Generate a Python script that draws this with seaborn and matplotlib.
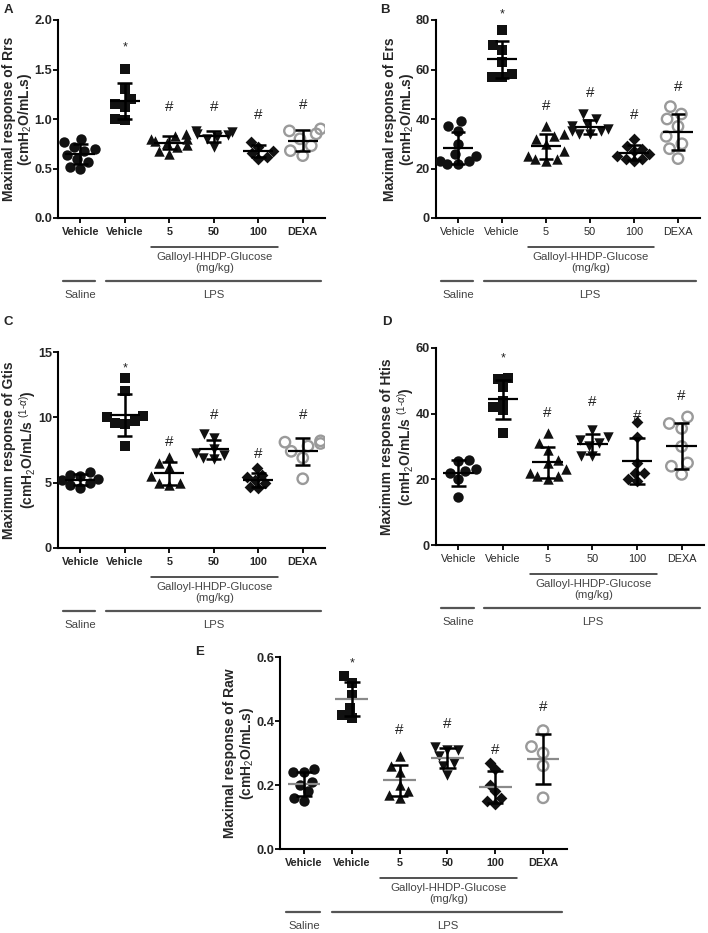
import numpy as np
import pandas as pd
import matplotlib
matplotlib.use("Agg")
import matplotlib.pyplot as plt
import matplotlib.transforms as mtransforms
import seaborn as sns

# groups (x categories) and their tick labels
groups = ["Saline Vehicle", "LPS Vehicle", "5", "50", "100", "DEXA"]
tick_labels = ["Vehicle", "Vehicle", "5", "50", "100", "DEXA"]

# values, one list per group
rrs = [[0.80, 0.77, 0.72, 0.68, 0.64, 0.60, 0.57, 0.52, 0.50, 0.70],
       [1.51, 1.30, 1.20, 1.15, 1.12, 1.00, 0.99],
       [0.85, 0.83, 0.80, 0.78, 0.76, 0.74, 0.72, 0.68, 0.65, 0.80],
       [0.88, 0.87, 0.85, 0.84, 0.82, 0.80, 0.72],
       [0.77, 0.72, 0.68, 0.66, 0.62, 0.60],
       [0.90, 0.88, 0.85, 0.80, 0.73, 0.68, 0.63]]
ers = [[39, 37, 35, 30, 26, 25, 23, 22, 22, 23],
       [76, 70, 68, 63, 58, 57, 57],
       [37, 34, 32, 30, 27, 25, 24, 24, 23, 33],
       [42, 40, 38, 37, 36, 35, 35, 34, 34],
       [32, 29, 28, 27, 26, 25, 24, 24, 23],
       [45, 42, 40, 37, 33, 30, 28, 24]]
gtis = [[5.8, 5.6, 5.5, 5.3, 5.2, 5.0, 4.8, 4.6],
        [13.0, 12.0, 10.1, 10.0, 9.7, 9.6, 9.5, 7.8],
        [7.0, 6.5, 6.2, 5.5, 5.0, 5.0, 4.8],
        [8.7, 8.4, 7.6, 7.3, 7.1, 6.9, 6.8],
        [6.1, 5.6, 5.4, 5.2, 5.0, 4.7, 4.6],
        [8.2, 8.1, 8.0, 7.8, 7.4, 6.9, 5.3]]
htis = [[26, 25.5, 23, 22.5, 22, 20, 14.5],
        [51, 50.5, 48, 44, 42, 41, 34],
        [34, 31, 29, 26, 25, 23, 22, 21, 21, 20],
        [35, 33, 32, 31, 30, 27, 27],
        [37.5, 33, 25, 22, 22, 20, 19.5],
        [39, 37, 35.5, 30, 25, 24, 21.5]]
raw = [[0.25, 0.24, 0.24, 0.21, 0.20, 0.18, 0.16, 0.15],
       [0.54, 0.52, 0.48, 0.44, 0.42, 0.41],
       [0.29, 0.26, 0.24, 0.20, 0.18, 0.17, 0.16],
       [0.32, 0.31, 0.31, 0.29, 0.27, 0.26, 0.23],
       [0.27, 0.25, 0.20, 0.18, 0.16, 0.15, 0.14],
       [0.37, 0.32, 0.30, 0.26, 0.16]]

# heights of the significance marks (* vs saline, # vs LPS vehicle)
rrs_sig = [None, 1.76, 1.12, 1.12, 1.04, 1.14]
ers_sig = [None, 84, 45.3, 50.7, 41.7, 52.8]
gtis_sig = [None, 14.06, 8.14, 10.17, 7.2, 10.17]
htis_sig = [None, 58, 40.2, 43.7, 39.2, 45.3]
raw_sig = [None, 0.592, 0.371, 0.392, 0.31, 0.445]

sns.set_theme(style="ticks")
plt.rcParams["font.family"] = ["Liberation Sans", "DejaVu Sans"]
plt.rcParams["mathtext.fontset"] = "custom"
plt.rcParams["mathtext.rm"] = "Liberation Sans"
plt.rcParams["mathtext.it"] = "Liberation Sans:italic"
plt.rcParams["mathtext.bf"] = "Liberation Sans:bold"

W, H = 708, 933
fig = plt.figure(figsize=(W / 100, H / 100), dpi=100)

markers = ["o", "s", "^", "v", "D", "o"]
msizes = [7.5, 7, 7.5, 7.5, 6, 7.5]


def px_axes(l, t, r, b):
    return fig.add_axes([l / W, 1 - b / H, (r - l) / W, (b - t) / H])


def draw_panel(ax, values, sig, ylabel, yticks, fmt, xbold, mean_color="black"):
    rows = [(g, v) for g, vals in zip(groups, values) for v in vals]
    df = pd.DataFrame(rows, columns=["group", "value"])
    hpx = ax.get_position().height * H
    for i, g in enumerate(groups):
        sub = df[df["group"] == g]
        sns.swarmplot(data=sub, x="group", y="value", order=groups,
                      marker=markers[i], size=msizes[i], color="#111111",
                      linewidth=0, ax=ax, warn_thresh=1, zorder=3)
        if g == "DEXA":
            coll = ax.collections[-1]
            coll.set_facecolor("none")
            coll.set_edgecolor("#9a9a9a")
            coll.set_linewidth(1.7)
        vals = np.array(sub["value"])
        m, sd = vals.mean(), vals.std(ddof=1)
        ax.hlines(m, i - 0.34, i + 0.34, color=mean_color, lw=1.6, zorder=5)
        ax.vlines(i, m - sd, m + sd, color="black", lw=1.8, zorder=5)
        ax.hlines([m - sd, m + sd], i - 0.17, i + 0.17, color="black", lw=1.8, zorder=5)
        if sig[i] is not None:
            if i == 1:
                ax.annotate("*", (i, sig[i]), xytext=(0, -3), textcoords="offset points",
                            ha="center", va="center", fontsize=9, color="#222222",
                            annotation_clip=False)
            else:
                ax.annotate("#", (i, sig[i]), ha="center", va="center",
                            fontsize=11, color="#222222", annotation_clip=False)
    ax.set_xlim(-0.5, 5.5)
    ax.set_ylim(yticks[0], yticks[-1])
    ax.set_yticks(yticks)
    ax.set_yticklabels([fmt.format(t) for t in yticks], fontsize=9.2, fontweight="bold")
    ax.set_xticks(range(len(groups)))
    ax.set_xticklabels(tick_labels, fontsize=7.8,
                       fontweight="bold" if xbold else "normal")
    ax.set_xlabel("")
    ax.set_ylabel(ylabel, fontsize=10, fontweight="bold", linespacing=1.05, labelpad=0)
    sns.despine(ax=ax)
    for s in ["left", "bottom"]:
        ax.spines[s].set_linewidth(1.5)
        ax.spines[s].set_color("black")
    ax.tick_params(axis="both", length=3.5, width=1.3, color="black")
    ax.tick_params(axis="y", pad=0.8)
    ax.tick_params(axis="x", pad=3)

    # group annotations below the axis
    tr = mtransforms.blended_transform_factory(ax.transData, ax.transAxes)
    f = lambda px: -px / hpx
    ax.plot([1.6, 4.45], [f(29)] * 2, transform=tr, color="#222222", lw=1.1, clip_on=False)
    ax.text(3.02, f(39), "Galloyl-HHDP-Glucose", transform=tr, ha="center", va="center",
            fontsize=8.2, color="#444444")
    ax.text(3.02, f(50), "(mg/kg)", transform=tr, ha="center", va="center",
            fontsize=8.2, color="#444444")
    ax.plot([-0.38, 0.34], [f(63)] * 2, transform=tr, color="#555555", lw=1.6, clip_on=False)
    ax.plot([0.58, 5.4], [f(63)] * 2, transform=tr, color="#555555", lw=1.6, clip_on=False)
    ax.text(0.0, f(77), "Saline", transform=tr, ha="center", va="center",
            fontsize=8.2, color="#444444")
    ax.text(3.0, f(77), "LPS", transform=tr, ha="center", va="center",
            fontsize=8.2, color="#444444")


unit_s = r"(cmH$_2$O/mL.s)"
unit_a = r"(cmH$_2$O/mL/s $^{(1\text{-}\alpha)}$)"

axA = px_axes(58, 20, 325, 218)
draw_panel(axA, rrs, rrs_sig, "Maximal response of Rrs\n" + unit_s,
           [0.0, 0.5, 1.0, 1.5, 2.0], "{:.1f}", True)
axB = px_axes(436, 20, 700, 218)
draw_panel(axB, ers, ers_sig, "Maximal response of Ers\n" + unit_s,
           [0, 20, 40, 60, 80], "{:.0f}", False)
axC = px_axes(58, 352, 325, 548)
draw_panel(axC, gtis, gtis_sig, "Maximum response of Gtis\n" + unit_a,
           [0, 5, 10, 15], "{:.0f}", True)
axD = px_axes(436, 348, 704, 545)
draw_panel(axD, htis, htis_sig, "Maximum response of Htis\n" + unit_a,
           [0, 20, 40, 60], "{:.0f}", False)
axE = px_axes(280, 657, 567, 849)
draw_panel(axE, raw, raw_sig, "Maximal response of Raw\n" + unit_s,
           [0.0, 0.2, 0.4, 0.6], "{:.1f}", True, mean_color="#8a8a8a")

for letter, x, y in [("A", 8, 10), ("B", 385, 10), ("C", 8, 322), ("D", 387, 322), ("E", 200, 652)]:
    fig.text(x / W, 1 - y / H, letter, fontsize=9.5, fontweight="bold", ha="center", va="center")

fig.savefig("out.png", dpi=100)
